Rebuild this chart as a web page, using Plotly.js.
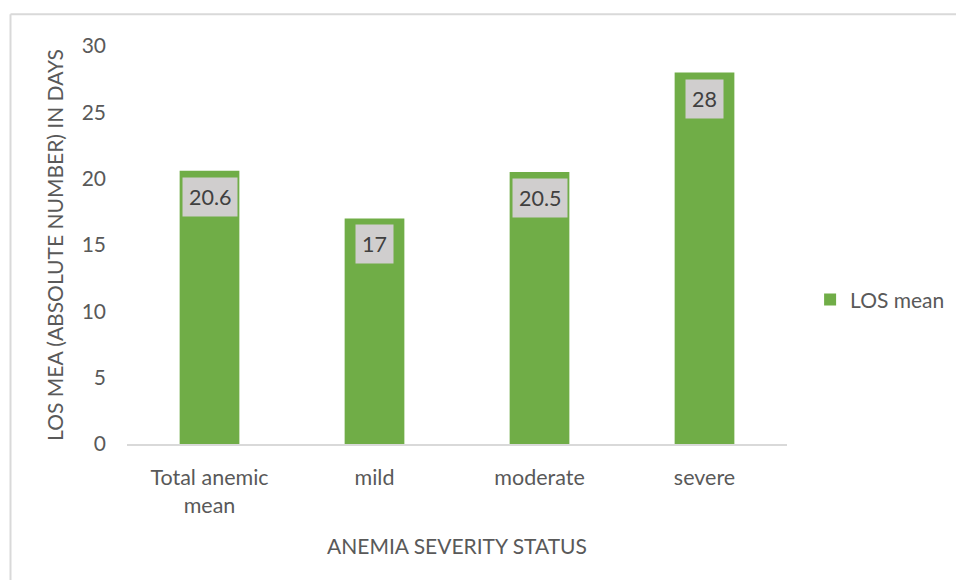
<!DOCTYPE html>
<html>
<head>
<meta charset="utf-8">
<script src="https://cdn.plot.ly/plotly-3.0.1.min.js"></script>
<style>
  html, body { margin: 0; padding: 0; background: #fff; }
  #chart { width: 956px; height: 580px; }
</style>
</head>
<body>
<div id="chart"></div>
<script>
const categories = ["Total anemic<br>mean", "mild", "moderate", "severe"];
const losMean = [20.6, 17, 20.5, 28];
const seriesName = "LOS mean";
const yTicks = [0, 5, 10, 15, 20, 25, 30];

const FONT = "Lato, 'Open Sans', sans-serif";
const TICK_COLOR = "#595959";
const FS = 21;

const trace = {
  type: "bar",
  x: categories,
  y: losMean,
  name: seriesName,
  marker: { color: "#70AD47" },
  hoverinfo: "x+y"
};

const annotations = categories.map((c, i) => ({
  x: c,
  y: losMean[i],
  xref: "x",
  yref: "y",
  text: String(losMean[i]),
  showarrow: false,
  yanchor: "top",
  yshift: -6,
  bgcolor: "#D0CECE",
  borderpad: 6,
  font: { family: FONT, size: 21.5, color: "#404040" }
}));

const layout = {
  width: 956,
  height: 580,
  margin: { l: 127, r: 169, t: 46, b: 136, autoexpand: false },
  paper_bgcolor: "#ffffff",
  plot_bgcolor: "#ffffff",
  font: { family: FONT, size: FS, color: TICK_COLOR },
  bargap: 0.638,
  showlegend: true,
  legend: {
    x: 1.035, xanchor: "left",
    y: 0.362, yanchor: "middle",
    font: { family: FONT, size: FS, color: TICK_COLOR },
    itemwidth: 30
  },
  xaxis: {
    type: "category",
    showline: true,
    linecolor: "#D9D9D9",
    linewidth: 1.5,
    showgrid: false,
    zeroline: false,
    ticks: "",
    ticklabelstandoff: 14,
    tickfont: { family: FONT, size: 21.5, color: TICK_COLOR },
    title: {
      text: "ANEMIA SEVERITY STATUS",
      font: { family: FONT, size: FS, color: TICK_COLOR },
      standoff: 22
    }
  },
  yaxis: {
    range: [0, 30],
    tickvals: yTicks,
    ticktext: yTicks.map(String),
    showline: false,
    showgrid: false,
    zeroline: false,
    ticks: "",
    ticklabelstandoff: 20,
    tickfont: { family: FONT, size: FS, color: TICK_COLOR },
    title: {
      text: "LOS MEA (ABSOLUTE NUMBER) IN DAYS",
      font: { family: FONT, size: FS, color: TICK_COLOR },
      standoff: 12
    }
  },
  annotations: annotations,
  shapes: [
    { type: "line", xref: "paper", yref: "paper",
      x0: -0.1765, x1: -0.1765, y0: 1.08, y1: -0.36,
      line: { color: "#D9D9D9", width: 2 } },
    { type: "line", xref: "paper", yref: "paper",
      x0: -0.1765, x1: 1.27, y0: 1.08, y1: 1.08,
      line: { color: "#D9D9D9", width: 2 } }
  ]
};

Plotly.newPlot("chart", [trace], layout, { displayModeBar: false, staticPlot: true });
</script>
</body>
</html>
